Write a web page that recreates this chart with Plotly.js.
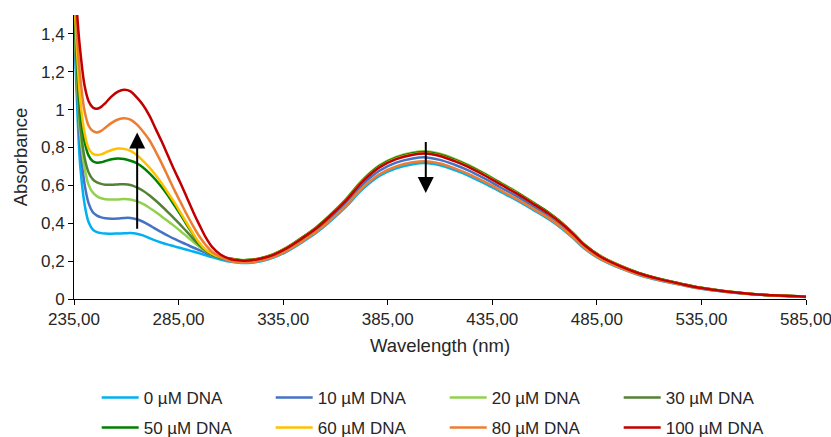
<!DOCTYPE html>
<html>
<head>
<meta charset="utf-8">
<script src="https://cdn.plot.ly/plotly-3.0.1.min.js"></script>
<style>html,body{margin:0;padding:0;background:#fff;}#chart{width:831px;height:437px;}</style>
</head>
<body>
<div id="chart"></div>
<script>
var wavelength = [235,236,237,238,240,242,244,246,248,250,253,256,259,262,265,268,271,274,277,280,283,286,289,292,295,298,301,305,
  310,315,320,325,330,337,344,351,357,365,373,381,389,397,403,410,417,423,431,439,447,455,462,468,474,479,487,497,505,515,525,535,547,559,572,585];

var dna0 = [1.46,1.16,0.89,0.70,0.505,0.405,0.367,0.353,0.348,0.346,0.345,0.346,0.347,0.348,0.345,0.336,0.322,0.308,0.297,0.287,0.278,0.269,0.26,0.251,0.241,0.231,0.221,0.209,
  0.196,0.190,0.192,0.201,0.217,0.252,0.299,0.351,0.405,0.486,0.580,0.650,0.690,0.712,0.718,0.706,0.681,0.655,0.612,0.566,0.519,0.468,0.421,0.374,0.318,0.266,0.208,0.159,0.127,0.098,0.075,0.054,0.037,0.025,0.017,0.011];
var dna10 = [1.48,1.22,0.98,0.81,0.61,0.505,0.458,0.44,0.431,0.426,0.424,0.425,0.428,0.428,0.421,0.408,0.39,0.37,0.352,0.334,0.317,0.302,0.287,0.272,0.258,0.244,0.231,0.215,
  0.205,0.198,0.200,0.209,0.226,0.263,0.312,0.365,0.422,0.506,0.604,0.677,0.720,0.742,0.748,0.735,0.709,0.682,0.638,0.589,0.541,0.487,0.438,0.390,0.331,0.278,0.216,0.166,0.132,0.102,0.078,0.056,0.039,0.026,0.018,0.012];
var dna20 = [1.5,1.26,1.04,0.87,0.695,0.603,0.562,0.542,0.532,0.527,0.525,0.526,0.528,0.526,0.517,0.502,0.482,0.46,0.435,0.41,0.385,0.358,0.33,0.302,0.275,0.252,0.233,0.216,
  0.213,0.206,0.208,0.218,0.236,0.274,0.325,0.381,0.440,0.528,0.630,0.706,0.751,0.774,0.780,0.767,0.740,0.711,0.665,0.615,0.564,0.508,0.457,0.406,0.345,0.290,0.226,0.173,0.138,0.107,0.081,0.059,0.041,0.027,0.018,0.012];
var dna30 = [1.54,1.3,1.08,0.92,0.75,0.668,0.632,0.616,0.608,0.604,0.603,0.605,0.606,0.602,0.59,0.572,0.548,0.52,0.49,0.458,0.425,0.39,0.355,0.318,0.285,0.255,0.235,0.218,
  0.212,0.205,0.207,0.217,0.234,0.273,0.323,0.379,0.437,0.525,0.626,0.702,0.746,0.770,0.776,0.763,0.735,0.707,0.662,0.611,0.561,0.505,0.455,0.404,0.343,0.288,0.224,0.172,0.137,0.106,0.081,0.059,0.040,0.027,0.018,0.012];
var dna50 = [1.58,1.36,1.15,1.0,0.835,0.757,0.727,0.72,0.722,0.729,0.738,0.742,0.739,0.73,0.717,0.695,0.665,0.63,0.59,0.545,0.495,0.445,0.39,0.34,0.29,0.257,0.235,0.218,
  0.212,0.205,0.207,0.217,0.234,0.272,0.323,0.378,0.436,0.524,0.625,0.701,0.745,0.768,0.774,0.761,0.734,0.706,0.660,0.610,0.559,0.504,0.454,0.403,0.343,0.287,0.224,0.171,0.137,0.106,0.081,0.058,0.040,0.027,0.018,0.012];
var dna60 = [1.62,1.4,1.2,1.05,0.88,0.795,0.767,0.76,0.764,0.773,0.787,0.795,0.793,0.782,0.76,0.73,0.695,0.655,0.61,0.56,0.51,0.455,0.40,0.345,0.295,0.26,0.238,0.22,
  0.211,0.204,0.206,0.216,0.233,0.271,0.321,0.376,0.434,0.522,0.622,0.697,0.741,0.764,0.770,0.757,0.730,0.702,0.657,0.607,0.557,0.502,0.451,0.401,0.341,0.286,0.223,0.171,0.136,0.105,0.080,0.058,0.040,0.027,0.018,0.012];
var dna80 = [1.68,1.48,1.3,1.17,0.995,0.915,0.887,0.88,0.888,0.905,0.93,0.948,0.955,0.947,0.922,0.885,0.84,0.78,0.715,0.645,0.575,0.51,0.445,0.385,0.33,0.285,0.25,0.222,
  0.199,0.192,0.194,0.204,0.220,0.256,0.303,0.356,0.410,0.493,0.588,0.659,0.700,0.722,0.728,0.716,0.690,0.664,0.621,0.574,0.526,0.474,0.427,0.379,0.322,0.270,0.210,0.161,0.129,0.100,0.076,0.055,0.038,0.026,0.017,0.011];
var dna100 = [1.75,1.58,1.43,1.31,1.13,1.045,1.012,1.005,1.015,1.035,1.07,1.095,1.105,1.097,1.065,1.025,0.97,0.90,0.83,0.755,0.68,0.61,0.535,0.46,0.39,0.325,0.275,0.235,
  0.21,0.203,0.205,0.215,0.232,0.27,0.32,0.375,0.433,0.52,0.62,0.695,0.739,0.762,0.768,0.755,0.728,0.70,0.655,0.605,0.555,0.50,0.45,0.40,0.34,0.285,0.222,0.17,0.136,0.105,0.08,0.058,0.04,0.027,0.018,0.012];

var seriesNames = ['0 µM DNA','10 µM DNA','20 µM DNA','30 µM DNA','50 µM DNA','60 µM DNA','80 µM DNA','100 µM DNA'];
var seriesValues = [dna0,dna10,dna20,dna30,dna50,dna60,dna80,dna100];
var seriesColors = ['#00B0F0','#4472C4','#92D050','#548235','#008000','#FFC000','#ED7D31','#C00000'];

var xTickVals = [235,285,335,385,435,485,535,585];
var xTickText = ['235,00','285,00','335,00','385,00','435,00','485,00','535,00','585,00'];
var yTickVals = [0,0.2,0.4,0.6,0.8,1,1.2,1.4];
var yTickText = ['0','0,2','0,4','0,6','0,8','1','1,2','1,4'];

var FONT = '"Liberation Sans", Arial, sans-serif';
var traces = seriesNames.map(function(n,i){
  return {x: wavelength, y: seriesValues[i], name: n, type:'scatter', mode:'lines',
    line:{color: seriesColors[i], width:2.5, shape:'spline', smoothing:1},
    legend: i < 4 ? 'legend' : 'legend2'};
});

var legendCommon = {orientation:'h', xanchor:'left', yanchor:'middle', x:0.031, yref:'container',
  font:{family:FONT, size:17, color:'#262626'}, entrywidth:122, entrywidthmode:'pixels', itemwidth:37,
  bgcolor:'rgba(0,0,0,0)', traceorder:'normal'};

var layout = {
  width:831, height:437,
  margin:{l:74, r:25, t:15, b:138, autoexpand:false},
  paper_bgcolor:'#fff', plot_bgcolor:'#fff',
  font:{family:FONT, color:'#262626'},
  showlegend:true,
  legend: Object.assign({}, legendCommon, {y:1-398/437}),
  legend2: Object.assign({}, legendCommon, {y:1-428/437}),
  xaxis:{range:[235,585], tickvals:xTickVals, ticktext:xTickText, showgrid:false, zeroline:false,
    showline:true, linecolor:'#000', linewidth:1, ticks:'outside', ticklen:5, tickcolor:'#000',
    ticklabeloverflow:'allow', automargin:false,
    tickfont:{family:FONT, size:17, color:'#262626'},
    title:{text:'Wavelength (nm)', font:{family:FONT, size:18.5, color:'#262626'}, standoff:10}},
  yaxis:{range:[0,1.5], tickvals:yTickVals, ticktext:yTickText, showgrid:false, zeroline:false,
    showline:true, linecolor:'#000', linewidth:1, ticks:'outside', ticklen:5, tickcolor:'#000',
    automargin:false,
    tickfont:{family:FONT, size:17, color:'#262626'},
    title:{text:'Absorbance', font:{family:FONT, size:18.5, color:'#262626'}, standoff:8}},
  annotations:[
    {x:265.2, y:0.88, ax:265.2, ay:0.363, xref:'x', yref:'y', axref:'x', ayref:'y', text:'',
      showarrow:true, arrowhead:2, arrowsize:1.6, arrowwidth:2, arrowcolor:'#000'},
    {x:403.2, y:0.56, ax:403.2, ay:0.837, xref:'x', yref:'y', axref:'x', ayref:'y', text:'',
      showarrow:true, arrowhead:2, arrowsize:1.6, arrowwidth:2, arrowcolor:'#000'}
  ]
};

Plotly.newPlot('chart', traces, layout, {staticPlot:true, displayModeBar:false});
</script>
</body>
</html>
